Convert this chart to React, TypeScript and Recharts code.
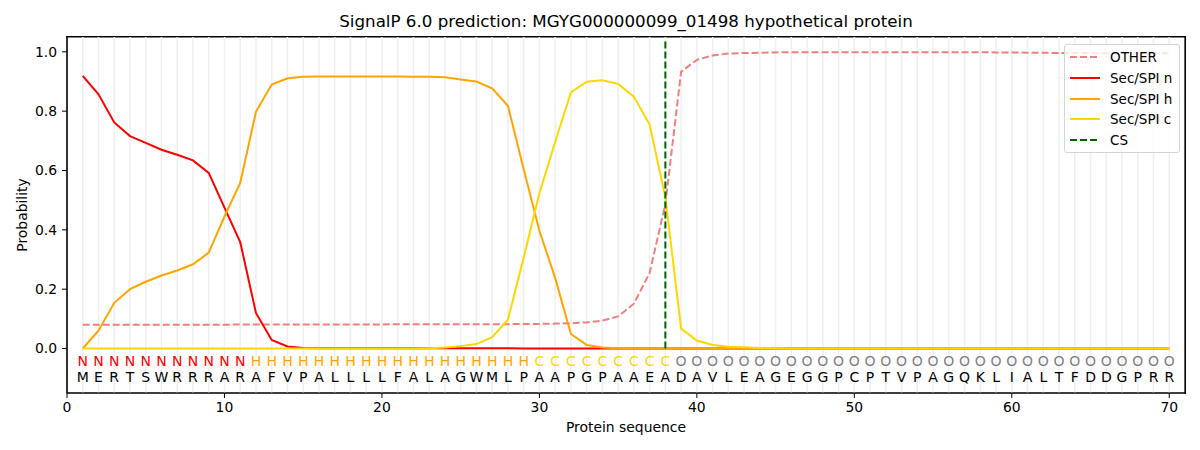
import {
  ComposedChart,
  Line,
  Scatter,
  XAxis,
  YAxis,
  ReferenceLine,
  ReferenceArea,
} from 'recharts';

const sequence = 'MERTSWRRRARAFVPALLLLFALAGWMLPAAPGPAAEADAVLEAGEGGPCPTVPAGQKLIALTFDDGPRR';
const regions = 'NNNNNNNNNNNHHHHHHHHHHHHHHHHHHCCCCCCCCCOOOOOOOOOOOOOOOOOOOOOOOOOOOOOOOO';

const otherProb = [
  0.080, 0.080, 0.080, 0.080, 0.080, 0.080, 0.080, 0.080, 0.080, 0.080,
  0.081, 0.081, 0.081, 0.081, 0.081, 0.081, 0.081, 0.081, 0.081, 0.081,
  0.082, 0.082, 0.082, 0.082, 0.082, 0.082, 0.082, 0.082, 0.083, 0.083,
  0.084, 0.085, 0.088, 0.094, 0.108, 0.151, 0.255, 0.487, 0.933, 0.973,
  0.988, 0.994, 0.996, 0.997, 0.998, 0.999, 0.999, 0.999, 0.999, 0.999,
  0.999, 0.999, 0.999, 0.999, 0.999, 0.999, 0.999, 0.999, 0.998, 0.998,
  0.997, 0.997, 0.996, 0.996, 0.996, 0.995, 0.995, 0.995, 0.995, 0.995,
];

const nProb = [
  0.919, 0.857, 0.762, 0.716, 0.693, 0.670, 0.653, 0.634, 0.592, 0.475,
  0.359, 0.120, 0.029, 0.007, 0.002, 0.001, 0.001, 0.001, 0.001, 0.001,
  0.001, 0.001, 0.001, 0.001, 0.001, 0.001, 0.001, 0.001, 0, 0,
  0, 0, 0, 0, 0, 0, 0, 0, 0, 0,
  0, 0, 0, 0, 0, 0, 0, 0, 0, 0,
  0, 0, 0, 0, 0, 0, 0, 0, 0, 0,
  0, 0, 0, 0, 0, 0, 0, 0, 0, 0,
];

const hProb = [
  0, 0.060, 0.154, 0.200, 0.225, 0.246, 0.263, 0.284, 0.323, 0.445,
  0.558, 0.798, 0.890, 0.911, 0.916, 0.917, 0.917, 0.917, 0.917, 0.917,
  0.917, 0.916, 0.916, 0.914, 0.907, 0.900, 0.877, 0.818, 0.605, 0.397,
  0.238, 0.049, 0.012, 0.003, 0.001, 0, 0, 0, 0, 0,
  0, 0, 0, 0, 0, 0, 0, 0, 0, 0,
  0, 0, 0, 0, 0, 0, 0, 0, 0, 0,
  0, 0, 0, 0, 0, 0, 0, 0, 0, 0,
];

const cProb = [
  0, 0, 0, 0, 0, 0, 0, 0, 0, 0,
  0, 0, 0, 0, 0, 0, 0, 0, 0, 0,
  0, 0, 0.001, 0.003, 0.008, 0.015, 0.038, 0.097, 0.306, 0.523,
  0.696, 0.863, 0.899, 0.904, 0.892, 0.849, 0.755, 0.510, 0.067, 0.027,
  0.012, 0.006, 0.004, 0.002, 0.001, 0, 0, 0, 0, 0,
  0, 0, 0, 0, 0, 0, 0, 0, 0, 0,
  0, 0, 0, 0, 0, 0, 0, 0, 0, 0,
];

const xTicks = [0, 10, 20, 30, 40, 50, 60, 70];
const yTicks = [0, 0.2, 0.4, 0.6, 0.8, 1.0];
const xDomain = [0, 71];
const yDomain = [-0.15, 1.05];
const cleavageSite = 38;

const regionColors: Record<string, string> = {
  N: '#ff0000',
  H: '#ffa500',
  C: '#ffd700',
  O: '#808080',
};

const legendItems = [
  { name: 'OTHER', color: '#f08080', dash: '7 3' },
  { name: 'Sec/SPI n', color: '#ff0000', dash: '' },
  { name: 'Sec/SPI h', color: '#ffa500', dash: '' },
  { name: 'Sec/SPI c', color: '#ffd700', dash: '' },
  { name: 'CS', color: '#006400', dash: '7 3' },
];

const rows = otherProb.map((v, i) => ({
  pos: i + 1,
  other: v,
  n: nProb[i],
  h: hProb[i],
  c: cProb[i],
}));

const regionRow = regions.split('').map((r, i) => ({ pos: i + 1, y: -0.041, text: r, color: regionColors[r] }));
const seqRow = sequence.split('').map((s, i) => ({ pos: i + 1, y: -0.095, text: s, color: '#000' }));

const FONT = '"DejaVu Sans", sans-serif';

const letterShape = (props: any) => {
  const { cx, cy, payload } = props;
  return (
    <text x={cx} y={cy} textAnchor="middle" dominantBaseline="central" fontSize={14} fill={payload.color} fontFamily={FONT}>
      {payload.text}
    </text>
  );
};

export default function App() {
  return (
    <div style={{ position: 'absolute', left: 0, top: 0, width: 1200, height: 450, fontFamily: FONT, background: '#fff' }}>
      <ComposedChart width={1200} height={450} data={rows} margin={{ top: 37, right: 15, bottom: 27, left: 0 }}>
        {rows.map(r => (
          <ReferenceLine key={`g${r.pos}`} x={r.pos} stroke="#efefef" strokeWidth={1.5} />
        ))}
        {/* axes frame */}
        <ReferenceArea
          x1={xDomain[0]}
          x2={xDomain[1]}
          y1={yDomain[0]}
          y2={yDomain[1]}
          fill="none"
          fillOpacity={0}
          stroke="#000"
          strokeWidth={1.2}
          strokeOpacity={1}
          ifOverflow="visible"
        />
        <XAxis
          dataKey="pos"
          type="number"
          domain={xDomain}
          ticks={xTicks}
          allowDataOverflow
          height={30}
          tickSize={5}
          tickMargin={4}
          stroke="#000"
          tick={{ fill: '#000', fontSize: 13.9, fontFamily: FONT }}
        />
        <YAxis
          type="number"
          domain={yDomain}
          ticks={yTicks}
          allowDataOverflow
          width={67}
          tickSize={5}
          tickMargin={5}
          stroke="#000"
          tickFormatter={(v: number) => v.toFixed(1)}
          tick={{ fill: '#000', fontSize: 13.9, fontFamily: FONT }}
        />
        <Line dataKey="other" stroke="#f08080" strokeWidth={2} strokeDasharray="7 3" dot={false} isAnimationActive={false} />
        <Line dataKey="n" stroke="#ff0000" strokeWidth={2} dot={false} isAnimationActive={false} />
        <Line dataKey="h" stroke="#ffa500" strokeWidth={2} dot={false} isAnimationActive={false} />
        <Line dataKey="c" stroke="#ffd700" strokeWidth={2} dot={false} isAnimationActive={false} />
        <ReferenceLine
          segment={[{ x: cleavageSite, y: 0 }, { x: cleavageSite, y: 1.04 }]}
          stroke="#006400"
          strokeWidth={2}
          strokeDasharray="7 3"
        />
        <Scatter data={regionRow} dataKey="y" shape={letterShape} isAnimationActive={false} />
        <Scatter data={seqRow} dataKey="y" shape={letterShape} isAnimationActive={false} />
      </ComposedChart>

      <div
        style={{
          position: 'absolute',
          left: 66,
          top: 36,
          width: 1120,
          height: 358,
          boxSizing: 'border-box',
          borderTop: '1.5px solid #000',
          borderRight: '1.5px solid #000',
          pointerEvents: 'none',
          zIndex: 5,
        }}
      />

      <div style={{ position: 'absolute', left: 0, width: 1252, top: 11, textAlign: 'center', fontSize: 16.7, color: '#000' }}>
        SignalP 6.0 prediction: MGYG000000099_01498 hypothetical protein
      </div>
      <div style={{ position: 'absolute', left: 0, width: 1252, top: 419, textAlign: 'center', fontSize: 13.9, color: '#000' }}>
        Protein sequence
      </div>
      <div
        style={{
          position: 'absolute',
          left: 22,
          top: 215,
          transform: 'translate(-50%, -50%) rotate(-90deg)',
          fontSize: 13.9,
          color: '#000',
          whiteSpace: 'nowrap',
        }}
      >
        Probability
      </div>

      <div
        style={{
          position: 'absolute',
          left: 1064,
          top: 44,
          width: 114,
          height: 107,
          border: '1px solid #d5d5d5',
          borderRadius: 3,
          background: 'rgba(255,255,255,0.8)',
          zIndex: 6,
        }}
      >
        {legendItems.map((item, i) => (
          <div key={item.name} style={{ position: 'absolute', left: 5, top: 2 + i * 20.8, height: 20, display: 'flex', alignItems: 'center' }}>
            <svg width={30} height={10}>
              <line x1={0} y1={5} x2={30} y2={5} stroke={item.color} strokeWidth={2} strokeDasharray={item.dash || undefined} />
            </svg>
            <span style={{ marginLeft: 10, fontSize: 13.5, color: '#000', whiteSpace: 'nowrap' }}>{item.name}</span>
          </div>
        ))}
      </div>
    </div>
  );
}
